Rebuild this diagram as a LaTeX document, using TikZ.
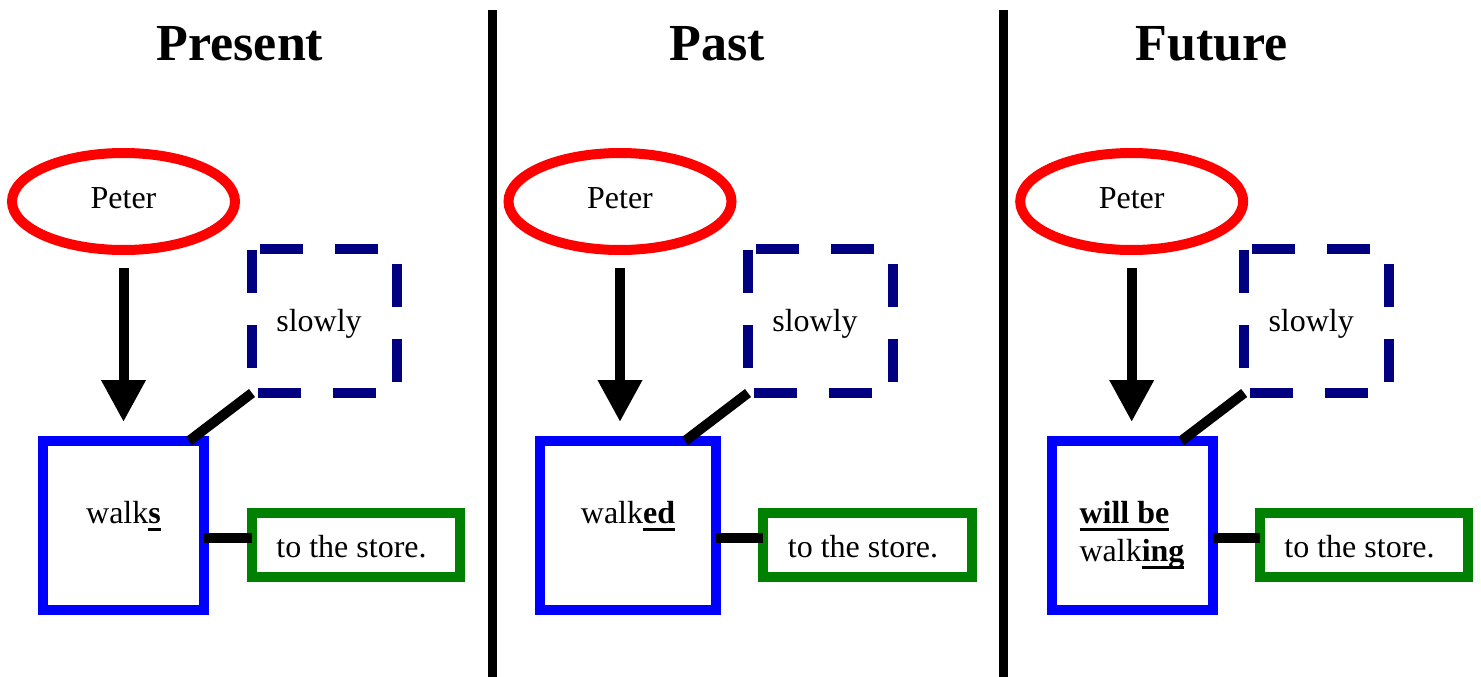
\documentclass[tikz,border=0pt]{standalone}
\usepackage{fontspec}
\setmainfont{Liberation Serif}
\usetikzlibrary{shapes.geometric,arrows.meta,calc}
\definecolor{navyc}{RGB}{0,0,128}
\definecolor{greenc}{RGB}{0,128,0}
\definecolor{bluec}{RGB}{0,0,255}
\definecolor{redc}{RGB}{255,0,0}
\newcommand\ulb[1]{\begingroup\setbox0\hbox{\textbf{#1}}\rlap{\rule[-7.5pt]{\wd0}{3pt}}\box0\endgroup}
\tikzset{
  every node/.style={inner sep=0pt, outer sep=0pt},
  title/.style={font=\fontsize{52}{60}\selectfont\bfseries, anchor=base},
  subj/.style={ellipse, draw=redc, line width=10pt, minimum width=223pt, minimum height=97pt, text height=20pt, text depth=7pt},
  verbbox/.style={rectangle, draw=bluec, line width=10pt, minimum height=169pt, text height=10pt, text depth=15pt},
  advbox/.style={rectangle, minimum width=145pt, minimum height=144pt, text height=23pt, text depth=2pt},
  objbox/.style={rectangle, draw=greenc, line width=10pt, minimum height=64pt, text height=26pt, text depth=2pt},
  conn/.style={line width=10pt, black},
  pred/.style={line width=10pt, black, -{Triangle[width=42pt,length=42pt]}, shorten <=18pt, shorten >=19pt},
  sepline/.style={line width=9pt, black},
  dsh/.style={navyc, line width=10pt, dash pattern=on 43pt off 32pt}
}
\begin{document}
\begin{tikzpicture}[x=1pt,y=-1pt,font=\fontsize{32}{38}\selectfont]
\useasboundingbox[fill=white] (0,0) rectangle (1481,677);

% separators
\coordinate (s1t) at (492.5,10);
\coordinate (s1b) at (492.5,677);
\coordinate (s2t) at (1003,10);
\coordinate (s2b) at (1003,677);
\draw[sepline] (s1t) -- (s1b);
\draw[sepline] (s2t) -- (s2b);

% titles
\node[title] (t1) at (240,60) {Present};
\node[title] (t2) at (717.5,60) {Past};
\node[title] (t3) at (1211.5,60) {Future};

% ---------- panel 1
\node[subj] (e1) at (123.5,201.5) {Peter};
\node[advbox] (d1) at (324.5,321) {slowly\hspace*{11pt}};
\node[verbbox, minimum width=161pt] (b1) at (123.5,525.5) {walk\ulb{s}};
\node[objbox, minimum width=208pt] (g1) at (356,545) {to the store.\hspace*{9pt}};

% ---------- panel 2
\node[subj] (e2) at (620,201.5) {Peter};
\node[advbox] (d2) at (820.5,321) {slowly\hspace*{11pt}};
\node[verbbox, minimum width=176pt] (b2) at (628,525.5) {walk\ulb{ed}};
\node[objbox, minimum width=209pt] (g2) at (867.5,545) {to the store.\hspace*{9pt}};

% ---------- panel 3
\node[subj] (e3) at (1131.7,201.5) {Peter};
\node[advbox] (d3) at (1316.7,321) {slowly\hspace*{11pt}};
\node[verbbox, minimum width=161pt] (b3) at (1132,525.5) {\begin{tabular}[t]{@{}l@{}}\ulb{will be}\\walk\ulb{ing}\end{tabular}};
\node[objbox, minimum width=208pt] (g3) at (1364,545) {to the store.\hspace*{9pt}};

\foreach \i in {1,2,3}{
  % dashed adverb box
  \draw[dsh, dash phase=67pt] (d\i.north west) -- (d\i.north east);
  \draw[dsh, dash phase=60pt] (d\i.north east) -- (d\i.south east);
  \draw[dsh, dash phase=69pt] (d\i.south west) -- (d\i.south east);
  \draw[dsh, dash phase=74pt] (d\i.north west) -- (d\i.south west);
  % subject -> verb
  \draw[pred] (e\i.south) -- (e\i.south |- b\i.north);
  % adverb -- verb
  \coordinate (c\i) at ($(d\i.south west)+(-63,48)$);
  \draw[conn] (d\i.south west) -- (c\i);
  % verb -- object
  \draw[conn] ([yshift=-12.5pt]b\i.east) -- ([yshift=-12.5pt]b\i.east -| g\i.west);
}
\end{tikzpicture}
\end{document}
